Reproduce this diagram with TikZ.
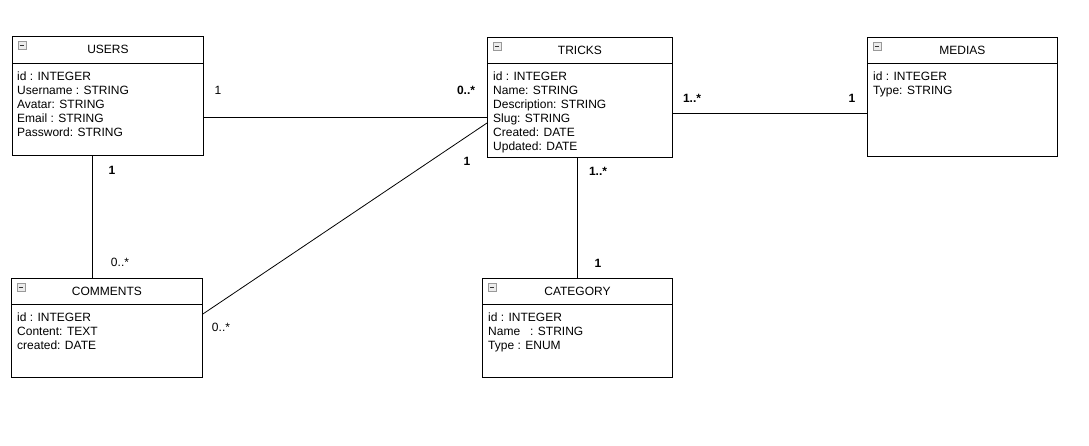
\documentclass[tikz,border=0pt]{standalone}
\usepackage{fontspec}
\setmainfont{Liberation Sans}
\begin{document}
\begin{tikzpicture}[x=1pt,y=-1pt,
  box/.style={draw=black,line width=0.9pt,fill=white,rectangle,inner sep=0pt,anchor=north west},
  ttl/.style={inner sep=0pt,font=\fontsize{12}{14}\selectfont},
  attr/.style={inner sep=0pt,anchor=north west,align=left,font=\fontsize{12}{14}\selectfont},
  lbl/.style={inner sep=0pt,font=\fontsize{12}{14}\selectfont},
  blbl/.style={inner sep=0pt,font=\fontsize{12}{14}\selectfont\bfseries},
  link/.style={draw=black,line width=0.8pt},
  icon/.style={draw=gray!80,fill=gray!15,line width=0.6pt,minimum size=8pt,inner sep=0pt,anchor=north west,
    path picture={\draw[black!80,line width=1pt] ([xshift=1.8pt]path picture bounding box.west) -- ([xshift=-1.8pt]path picture bounding box.east);}}
]
\useasboundingbox (0,0) rectangle (1089,446);
\fill[white] (0,0) rectangle (1089,446);

% USERS
\node[box,minimum width=191pt,minimum height=119pt] (users) at (12,36) {};
\draw[line width=0.9pt] ([yshift=-27pt]users.north west) -- ([yshift=-27pt]users.north east);
\node[icon] (usersI) at ([xshift=5.5pt,yshift=-5pt]users.north west) {};
\node[ttl] (usersT) at ([yshift=-13.5pt]users.north) {USERS};
\node[attr] (usersA) at ([xshift=5pt,yshift=-35.5pt]users.north west) {id : INTEGER\\Username : STRING\\Avatar: STRING\\Email : STRING\\Password: STRING};

% TRICKS
\node[box,minimum width=185pt,minimum height=120pt] (tricks) at (487,37) {};
\draw[line width=0.9pt] ([yshift=-26pt]tricks.north west) -- ([yshift=-26pt]tricks.north east);
\node[icon] (tricksI) at ([xshift=5.5pt,yshift=-5pt]tricks.north west) {};
\node[ttl] (tricksT) at ([yshift=-13pt]tricks.north) {TRICKS};
\node[attr] (tricksA) at ([xshift=6pt,yshift=-34.5pt]tricks.north west) {id : INTEGER\\Name: STRING\\Description: STRING\\Slug: STRING\\Created: DATE\\Updated: DATE};

% MEDIAS
\node[box,minimum width=190pt,minimum height=119pt] (medias) at (867,37) {};
\draw[line width=0.9pt] ([yshift=-26pt]medias.north west) -- ([yshift=-26pt]medias.north east);
\node[icon] (mediasI) at ([xshift=5.5pt,yshift=-5pt]medias.north west) {};
\node[ttl] (mediasT) at ([yshift=-13pt]medias.north) {MEDIAS};
\node[attr] (mediasA) at ([xshift=6pt,yshift=-34.5pt]medias.north west) {id : INTEGER\\Type: STRING};

% COMMENTS
\node[box,minimum width=191pt,minimum height=99pt] (comments) at (11,278) {};
\draw[line width=0.9pt] ([yshift=-26pt]comments.north west) -- ([yshift=-26pt]comments.north east);
\node[icon] (commentsI) at ([xshift=5.5pt,yshift=-5pt]comments.north west) {};
\node[ttl] (commentsT) at ([yshift=-13pt]comments.north) {COMMENTS};
\node[attr] (commentsA) at ([xshift=6pt,yshift=-34.5pt]comments.north west) {id : INTEGER\\Content: TEXT\\created: DATE};

% CATEGORY
\node[box,minimum width=190pt,minimum height=99pt] (category) at (482,278) {};
\draw[line width=0.9pt] ([yshift=-26pt]category.north west) -- ([yshift=-26pt]category.north east);
\node[icon] (categoryI) at ([xshift=5.5pt,yshift=-5pt]category.north west) {};
\node[ttl] (categoryT) at ([yshift=-13pt]category.north) {CATEGORY};
\node[attr] (categoryA) at ([xshift=6pt,yshift=-34.5pt]category.north west) {id : INTEGER\\Name\ \ \ : STRING\\Type : ENUM};

% connectors
\draw[link] (users.east |- 0,117) -- (tricks.west |- 0,117);
\draw[link] (tricks.east |- 0,113) -- (medias.west |- 0,113);
\draw[link] (users.south -| 92,0) -- (comments.north -| 92,0);
\draw[link] (tricks.south -| 577,0) -- (category.north -| 577,0);
\draw[link] (comments.east |- 0,314) -- (tricks.west |- 0,123);

% multiplicities
\node[lbl] (m1) at (218,90) {1};
\node[blbl] (m2) at (466,90) {0..*};
\node[blbl] (m3) at (467,161) {1};
\node[blbl] (m4) at (692,98) {1..*};
\node[blbl] (m5) at (852,98) {1};
\node[blbl] (m6) at (112,170) {1};
\node[lbl] (m7) at (120,262) {0..*};
\node[blbl] (m8) at (598,171) {1..*};
\node[blbl] (m9) at (598,263) {1};
\node[lbl] (m10) at (221,327) {0..*};
\end{tikzpicture}
\end{document}
